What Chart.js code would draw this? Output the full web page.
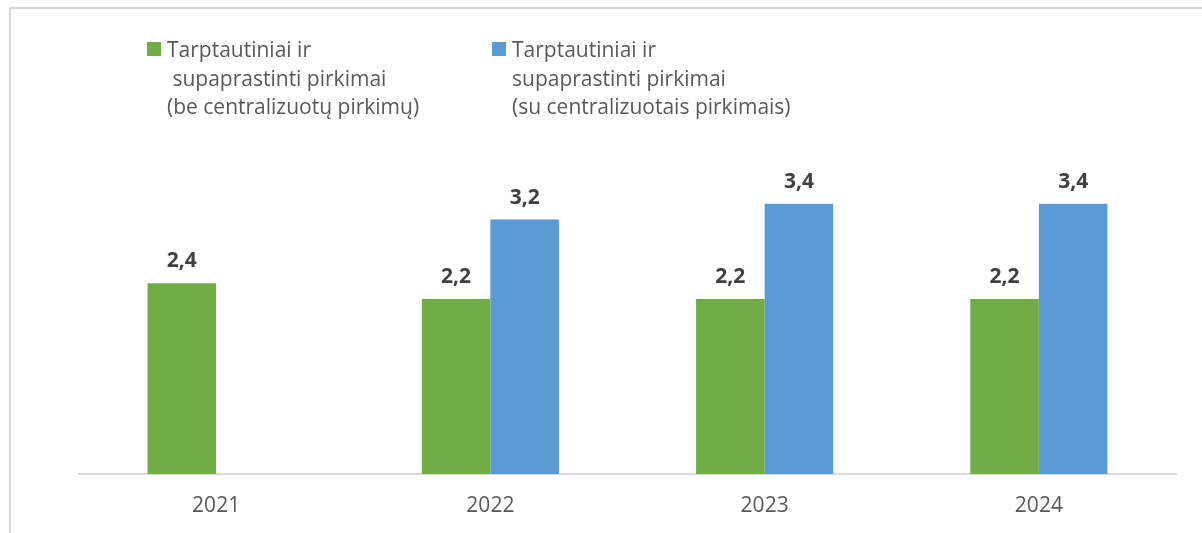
<!DOCTYPE html>
<html>
<head>
<meta charset="utf-8">
<script src="https://cdn.jsdelivr.net/npm/chart.js@4/dist/chart.umd.min.js"></script>
<style>
  html, body { margin: 0; padding: 0; background: #fff; overflow: hidden; }
  #wrap { position: relative; width: 1202px; height: 533px; }
  #frame { position: absolute; left: 9px; top: 7px; width: 1300px; height: 700px;
           border-top: 2px solid #d9d9d9; border-left: 2px solid #d9d9d9; }
  canvas { position: absolute; left: 0; top: 0; }
</style>
</head>
<body>
<div id="wrap">
  <div id="frame"></div>
  <canvas id="chart" width="1202" height="533"></canvas>
</div>
<script>
// data
const years = ['2021', '2022', '2023', '2024'];
const withoutCentral = [2.4, 2.2, 2.2, 2.2];
const withCentral = [null, 3.2, 3.4, 3.4];
const labelGreen = ['Tarptautiniai ir', ' supaprastinti pirkimai', '(be centralizuotų pirkimų)'];
const labelBlue = ['Tarptautiniai ir', 'supaprastinti pirkimai', '(su centralizuotais pirkimais)'];

const FONT = '"Open Sans", "Liberation Sans", sans-serif';

// value labels above the bars
const valueLabels = {
  id: 'valueLabels',
  afterDatasetsDraw(chart) {
    const ctx = chart.ctx;
    ctx.save();
    ctx.font = 'bold 21px ' + FONT;
    ctx.fillStyle = '#404040';
    ctx.textAlign = 'center';
    ctx.textBaseline = 'alphabetic';
    chart.data.datasets.forEach((ds, i) => {
      chart.getDatasetMeta(i).data.forEach((bar, j) => {
        const v = ds.data[j];
        if (v == null) return;
        ctx.fillText(v.toFixed(1).replace('.', ','), bar.x, bar.y - 16);
      });
    });
    ctx.restore();
  }
};

// legend with multi-line labels
const sideLegend = {
  id: 'sideLegend',
  afterDraw(chart) {
    const ctx = chart.ctx;
    const spots = [{ x: 147 }, { x: 492 }];
    ctx.save();
    ctx.font = '21px ' + FONT;
    ctx.textBaseline = 'alphabetic';
    chart.data.datasets.forEach((ds, i) => {
      const x = spots[i].x;
      ctx.fillStyle = ds.backgroundColor;
      ctx.fillRect(x, 42, 14, 14);
      ctx.fillStyle = '#595959';
      ds.label.forEach((line, k) => {
        ctx.fillText(line, x + 20, 57 + k * 28.5);
      });
    });
    ctx.restore();
  }
};

new Chart(document.getElementById('chart'), {
  type: 'bar',
  data: {
    labels: years,
    datasets: [
      { label: labelGreen, data: withoutCentral, backgroundColor: '#70AD47' },
      { label: labelBlue, data: withCentral, backgroundColor: '#5B9BD5' }
    ]
  },
  options: {
    responsive: false,
    animation: false,
    categoryPercentage: 0.5,
    barPercentage: 1.0,
    layout: { padding: { left: 79, right: 26, top: 156, bottom: 0 } },
    plugins: { legend: { display: false }, tooltip: { enabled: false } },
    scales: {
      x: {
        grid: { display: false, drawTicks: false },
        border: { display: true, color: '#d9d9d9', width: 2 },
        ticks: { color: '#595959', font: { family: FONT, size: 21 }, padding: 19 },
        afterFit(scale) { scale.height = 59; }
      },
      y: {
        display: false,
        min: 0,
        max: 4
      }
    }
  },
  plugins: [valueLabels, sideLegend]
});
</script>
</body>
</html>
